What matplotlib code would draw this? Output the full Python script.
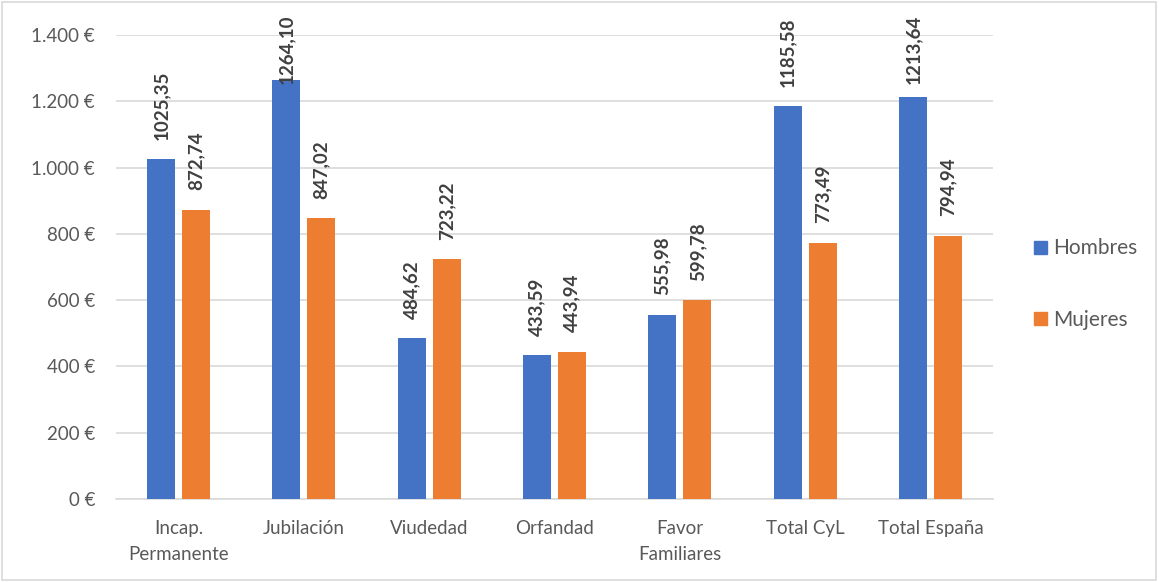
import matplotlib
matplotlib.use("Agg")
import matplotlib.pyplot as plt
import numpy as np
from matplotlib.patches import Patch, Rectangle

categories = ["Incap.\nPermanente", "Jubilación", "Viudedad", "Orfandad", "Favor\nFamiliares", "Total CyL", "Total España"]
hombres = [1025.35, 1264.10, 484.62, 433.59, 555.98, 1185.58, 1213.64]
mujeres = [872.74, 847.02, 723.22, 443.94, 599.78, 773.49, 794.94]
yticks = [0, 200, 400, 600, 800, 1000, 1200, 1400]
ytick_labels = ["0 €", "200 €", "400 €", "600 €", "800 €", "1.000 €", "1.200 €", "1.400 €"]

plt.rcParams['font.family'] = ['Lato', 'DejaVu Sans']
blue = "#4472C4"
orange = "#ED7D31"
txt = "#595959"

fig = plt.figure(figsize=(11.59, 5.82), dpi=100)
ax = fig.add_axes([0.100, 0.1426, 0.757, 0.797])

x = np.arange(len(categories))
w = 0.223
off = 0.14
ax.bar(x - off, hombres, w, color=blue, zorder=3)
ax.bar(x + off, mujeres, w, color=orange, zorder=3)

def fmt(v):
    return f"{v:.2f}".replace(".", ",")

labels = []
for xs, vals in ((x - off, hombres), (x + off, mujeres)):
    for xi, v in zip(xs, vals):
        t = ax.annotate(fmt(v), (xi, v), xytext=(0, 14), textcoords="offset points",
                        rotation=90, ha="center", va="bottom", fontsize=13.5,
                        fontweight="bold", color="#404040", annotation_clip=False, zorder=4)
        labels.append(t)

ax.set_xlim(-0.5, len(categories) - 0.5)
ax.set_ylim(0, 1400)
ax.set_yticks(yticks)
ax.set_yticklabels(ytick_labels, fontsize=13.5, color=txt)
ax.set_xticks(x)
ax.set_xticklabels(categories, fontsize=13.5, color=txt, linespacing=1.65)
ax.tick_params(axis="both", length=0)
ax.tick_params(axis="y", pad=15)
ax.tick_params(axis="x", pad=15)
ax.grid(axis="y", color="#D9D9D9", linewidth=1.2, zorder=0)
for s in ["top", "right", "left"]:
    ax.spines[s].set_visible(False)
ax.spines["bottom"].set_color("#D9D9D9")
ax.spines["bottom"].set_linewidth(1.2)

handles = [Patch(color=blue, label="Hombres"), Patch(color=orange, label="Mujeres")]
leg = fig.legend(handles=handles, loc="center left", bbox_to_anchor=(0.876, 0.512),
                 frameon=False, fontsize=15, labelspacing=2.45, handlelength=0.6,
                 handleheight=0.6, handletextpad=0.3)
for t in leg.get_texts():
    t.set_color(txt)

fig.patches.append(Rectangle((0.002, 0.003), 0.995, 0.993, transform=fig.transFigure,
                             fill=False, edgecolor="#D9D9D9", linewidth=1.2))

# keep labels inside the chart area (as the original does)
fig.canvas.draw()
r = fig.canvas.get_renderer()
top_limit = fig.bbox.height - 15
for t in labels:
    bb = t.get_window_extent(r)
    if bb.y1 > top_limit:
        dy_pt = (bb.y1 - top_limit) * 72 / fig.dpi
        xo, yo = t.xyann
        t.xyann = (xo, yo - dy_pt)

fig.savefig("out.png", dpi=100)
